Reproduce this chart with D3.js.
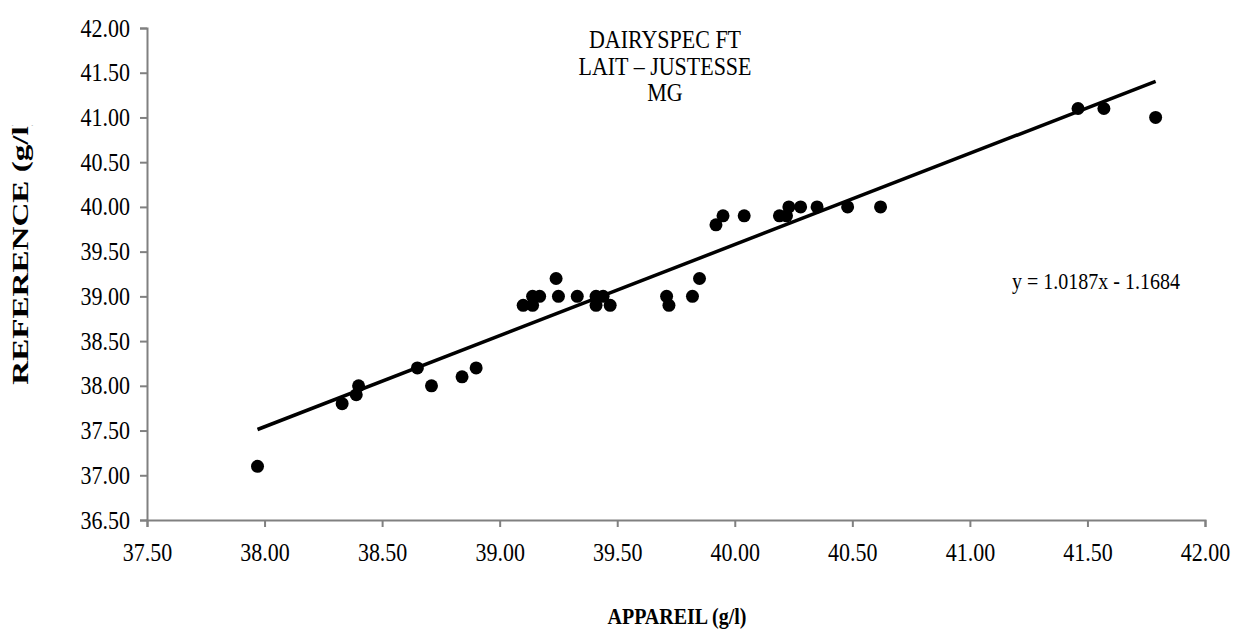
<!DOCTYPE html>
<html>
<head>
    <meta charset="UTF-8">
    <title>Dairyspec FT - justesse MG</title>
    <!-- link to D3.js -->
    <script src="https://d3js.org/d3.v7.min.js"></script>
    <style>
        body { margin: 0; background: white; }
        svg text { font-family: "Liberation Serif", "Times New Roman", serif; fill: #000; }
    </style>
</head>
<body>
<div id="chart"></div>
<script>
    // appareil (x) values
    var appareil = [37.97, 38.33, 38.39, 38.40, 38.65, 38.71, 38.84, 38.90,
                    39.10, 39.14, 39.14, 39.17, 39.24, 39.25, 39.33, 39.41, 39.41,
                    39.44, 39.47, 39.71, 39.72, 39.82, 39.85, 39.92, 39.95, 40.04,
                    40.19, 40.22, 40.23, 40.28, 40.35, 40.48, 40.62, 41.46, 41.57, 41.79];

    // reference (y) values, same order
    var reference = [37.10, 37.80, 37.90, 38.00, 38.20, 38.00, 38.10, 38.20,
                     38.90, 38.90, 39.00, 39.00, 39.20, 39.00, 39.00, 39.00, 38.90,
                     39.00, 38.90, 39.00, 38.90, 39.00, 39.20, 39.80, 39.90, 39.90,
                     39.90, 39.90, 40.00, 40.00, 40.00, 40.00, 40.00, 41.10, 41.10, 41.00];

    // axis ticks
    var xTicks = [37.5, 38, 38.5, 39, 39.5, 40, 40.5, 41, 41.5, 42];
    var yTicks = [36.5, 37, 37.5, 38, 38.5, 39, 39.5, 40, 40.5, 41, 41.5, 42];

    // linear trend line
    var slope = 1.0187;
    var intercept = -1.1684;

    var titleLines = ["DAIRYSPEC FT", "LAIT \u2013 JUSTESSE", "MG"];

    var width = 1235, height = 630;
    var plotLeft = 147, plotRight = 1205, plotTop = 28, plotBottom = 520;
    // text in the original is drawn a little taller than wide
    var stretch = 1.15;

    var x = d3.scaleLinear().domain([37.5, 42]).range([plotLeft, plotRight]);
    var y = d3.scaleLinear().domain([36.5, 42]).range([plotBottom, plotTop]);

    var svg = d3.select("#chart").append("svg")
        .attr("width", width)
        .attr("height", height);

    // helper for stretched text
    function label(px, py, size, txt, anchor, bold) {
        return svg.append("text")
            .attr("transform", "translate(" + px + "," + py + ") scale(1," + stretch + ")")
            .attr("text-anchor", anchor || "middle")
            .attr("font-size", size + "px")
            .attr("font-weight", bold ? "bold" : "normal")
            .text(txt);
    }

    // axes
    var xAxis = svg.append("g")
        .attr("transform", "translate(0," + plotBottom + ")")
        .call(d3.axisBottom(x).tickValues(xTicks).tickSize(7)
            .tickFormat(d3.format(".2f")));
    var yAxis = svg.append("g")
        .attr("transform", "translate(" + plotLeft + ",0)")
        .call(d3.axisLeft(y).tickValues(yTicks).tickSize(7)
            .tickFormat(d3.format(".2f")));

    [xAxis, yAxis].forEach(function(g) {
        g.attr("font-family", null);
        g.select(".domain").attr("stroke", "#808080").attr("stroke-width", 2);
        g.selectAll(".tick line").attr("stroke", "#808080").attr("stroke-width", 2);
        g.selectAll(".tick text")
            .attr("font-size", "22px")
            .attr("fill", "#000")
            .attr("x", 0)
            .attr("y", 0)
            .attr("dy", null);
    });
    xAxis.selectAll(".tick text")
        .attr("transform", "translate(0,41) scale(1," + stretch + ")");
    yAxis.selectAll(".tick text")
        .attr("text-anchor", "end")
        .attr("transform", "translate(-17,8) scale(1," + stretch + ")");

    // trend line between first and last x
    var x0 = d3.min(appareil), x1 = d3.max(appareil);
    svg.append("line")
        .attr("x1", x(x0))
        .attr("y1", y(slope * x0 + intercept))
        .attr("x2", x(x1))
        .attr("y2", y(slope * x1 + intercept))
        .attr("stroke", "#000")
        .attr("stroke-width", 3.5);

    // points
    svg.selectAll("circle.pt")
        .data(appareil)
        .enter()
        .append("circle")
        .attr("class", "pt")
        .attr("cx", function(d) { return x(d); })
        .attr("cy", function(d, i) { return y(reference[i]); })
        .attr("r", 6.5)
        .attr("fill", "#000");

    // title
    titleLines.forEach(function(t, i) {
        label(665, 48 + i * 26.5, 22, t);
    });

    // equation
    label(1096, 289, 20, "y = " + slope + "x - " + Math.abs(intercept));

    // x axis title
    label(677, 624, 20, "APPAREIL (g/l)", "middle", true);

    // y axis title, the closing bracket is cut in the original
    svg.append("clipPath").attr("id", "ycut")
        .append("rect").attr("x", 0).attr("y", 125).attr("width", 60).attr("height", 400);
    svg.append("g").attr("clip-path", "url(#ycut)")
        .append("text")
        .attr("transform", "translate(28,250) rotate(-90) scale(1.38,1)")
        .attr("text-anchor", "middle")
        .attr("font-size", "24px")
        .attr("font-weight", "bold")
        .text("REFERENCE (g/l)");
</script>
</body>
</html>
